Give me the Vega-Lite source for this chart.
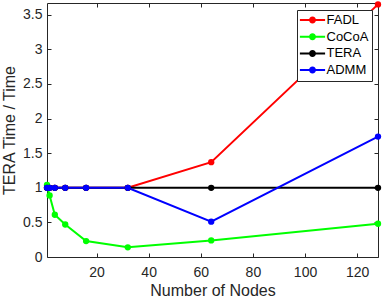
{
  "$schema": "https://vega.github.io/schema/vega-lite/v6.json",
  "width": 331,
  "height": 254,
  "autosize": "none",
  "padding": {"left": 47, "top": 3, "right": 4, "bottom": 43},
  "background": "white",
  "config": {
    "font": "Liberation Sans",
    "view": {"stroke": "#262626", "strokeWidth": 1}
  },
  "data": {
    "values": [
      {"n": 1, "s": "FADL", "v": 1},
      {"n": 2, "s": "FADL", "v": 1},
      {"n": 4, "s": "FADL", "v": 1},
      {"n": 8, "s": "FADL", "v": 1},
      {"n": 16, "s": "FADL", "v": 1},
      {"n": 32, "s": "FADL", "v": 1},
      {"n": 64, "s": "FADL", "v": 1.37},
      {"n": 128, "s": "FADL", "v": 3.65},
      {"n": 1, "s": "CoCoA", "v": 1.04},
      {"n": 2, "s": "CoCoA", "v": 0.89},
      {"n": 4, "s": "CoCoA", "v": 0.61},
      {"n": 8, "s": "CoCoA", "v": 0.47},
      {"n": 16, "s": "CoCoA", "v": 0.23},
      {"n": 32, "s": "CoCoA", "v": 0.14},
      {"n": 64, "s": "CoCoA", "v": 0.24},
      {"n": 128, "s": "CoCoA", "v": 0.48},
      {"n": 1, "s": "TERA", "v": 1},
      {"n": 2, "s": "TERA", "v": 1},
      {"n": 4, "s": "TERA", "v": 1},
      {"n": 8, "s": "TERA", "v": 1},
      {"n": 16, "s": "TERA", "v": 1},
      {"n": 32, "s": "TERA", "v": 1},
      {"n": 64, "s": "TERA", "v": 1},
      {"n": 128, "s": "TERA", "v": 1},
      {"n": 1, "s": "ADMM", "v": 1},
      {"n": 2, "s": "ADMM", "v": 1},
      {"n": 4, "s": "ADMM", "v": 1},
      {"n": 8, "s": "ADMM", "v": 1},
      {"n": 16, "s": "ADMM", "v": 1},
      {"n": 32, "s": "ADMM", "v": 1},
      {"n": 64, "s": "ADMM", "v": 0.51},
      {"n": 128, "s": "ADMM", "v": 1.74}
    ]
  },
  "layer": [
    {
      "mark": {"type": "line", "strokeWidth": 2},
      "encoding": {
        "x": {"field": "n", "type": "quantitative", "scale": {"domain": [1, 128], "nice": false, "zero": false},
              "axis": {"values": [20, 40, 60, 80, 100, 120], "title": "Number of Nodes", "grid": false, "domain": false,
                       "tickColor": "#262626", "tickSize": -4, "labelColor": "#262626", "labelFontSize": 14,
                       "titleColor": "#262626", "titleFontSize": 16, "titleFontWeight": "normal",
                       "labelPadding": 12, "titlePadding": 3}},
        "y": {"field": "v", "type": "quantitative", "scale": {"domain": [0, 3.67], "nice": false},
              "axis": {"values": [0, 0.5, 1, 1.5, 2, 2.5, 3, 3.5], "format": "~g", "title": "TERA Time / Time", "grid": false, "domain": false,
                       "tickColor": "#262626", "tickSize": -4, "labelColor": "#262626", "labelFontSize": 14,
                       "titleColor": "#262626", "titleFontSize": 16, "titleFontWeight": "normal",
                       "labelPadding": 9, "titlePadding": 5}},
        "color": {"field": "s", "type": "nominal", "sort": ["FADL", "CoCoA", "TERA", "ADMM"],
                  "scale": {"domain": ["FADL", "CoCoA", "TERA", "ADMM"], "range": ["#ff0000", "#00ff00", "#000000", "#0000ff"]},
                  "legend": {
                    "title": null,
                    "orient": "none",
                    "legendX": 250,
                    "legendY": 7,
                    "padding": 3,
                    "strokeColor": "#262626",
                    "fillColor": "white",
                    "symbolType": "M-1.8,-0.14H1.8V0.14H-1.8Z M-0.5,0A0.5,0.5 0 1,1 0.5,0A0.5,0.5 0 1,1 -0.5,0Z",
                    "symbolSize": 196,
                    "symbolStrokeWidth": 0,
                    "symbolOffset": 5.5,
                    "labelOffset": 7,
                    "labelFontSize": 13,
                    "labelColor": "#000000",
                    "rowPadding": 2.7,
                    "encode": {"symbols": {"update": {"fill": {"scale": "color", "field": "value"}, "stroke": {"value": "transparent"}, "opacity": {"value": 1}}}}
                  }}
      }
    },
    {
      "mark": {"type": "point", "filled": true, "size": 40, "opacity": 1, "clip": false},
      "encoding": {
        "x": {"field": "n", "type": "quantitative", "axis": null},
        "y": {"field": "v", "type": "quantitative", "axis": null},
        "color": {"field": "s", "type": "nominal", "sort": ["FADL", "CoCoA", "TERA", "ADMM"], "legend": null}
      }
    },
    {
      "mark": {"type": "point", "opacity": 0},
      "encoding": {
        "x": {"field": "n", "type": "quantitative", "axis": {"orient": "top", "values": [20, 40, 60, 80, 100, 120], "labels": false, "title": null, "grid": false, "domain": false, "tickColor": "#262626", "tickSize": -4}},
        "y": {"field": "v", "type": "quantitative", "axis": {"orient": "right", "values": [0, 0.5, 1, 1.5, 2, 2.5, 3, 3.5], "labels": false, "title": null, "grid": false, "domain": false, "tickColor": "#262626", "tickSize": -4}}
      }
    }
  ],
  "resolve": {"axis": {"x": "independent", "y": "independent"}}
}
